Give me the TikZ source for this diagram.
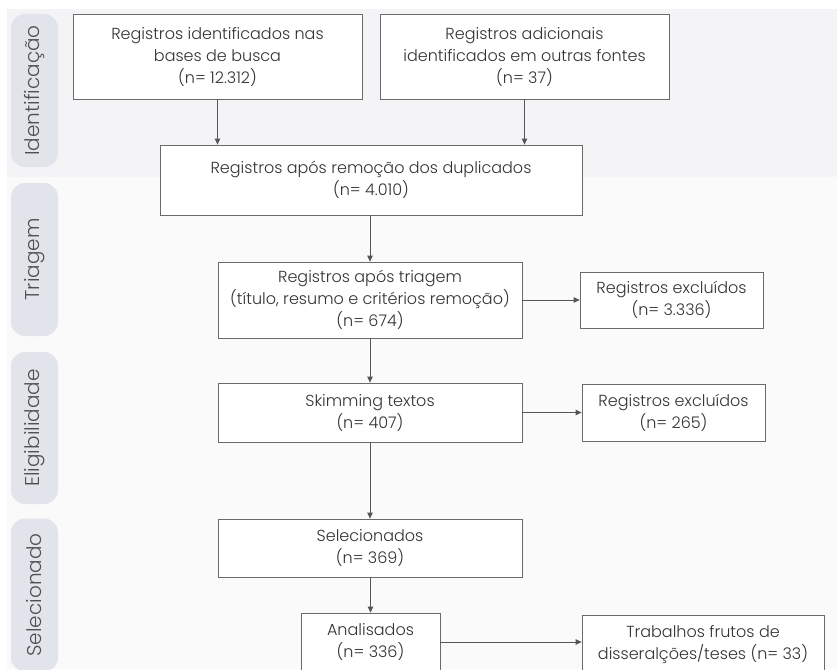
\documentclass[tikz,border=0pt]{standalone}
\usepackage{fontspec}
\setmainfont{Poppins Light}
\usetikzlibrary{arrows.meta}
\definecolor{bandA}{HTML}{F4F4F6}
\definecolor{bandB}{HTML}{FAFAFA}
\definecolor{pill}{HTML}{E2E4EB}
\definecolor{txt}{HTML}{333333}
\definecolor{pilltxt}{HTML}{505050}
\definecolor{edge}{HTML}{6A6A6A}
\tikzset{
  box/.style={draw=edge, line width=0.8pt, fill=white, align=center, text=txt,
    font=\fontsize{16}{22}\selectfont, inner sep=0pt},
  pillbox/.style={fill=pill, rounded corners=14pt, minimum width=47pt, inner sep=0pt},
  pilllabel/.style={rotate=90, text=pilltxt, font=\fontsize{20}{22}\selectfont, inner sep=0pt},
  conn/.style={draw=edge!80!black, line width=0.8pt, -{Triangle[length=6pt,width=5.5pt]}}
}
\begin{document}
\begin{tikzpicture}[x=1pt,y=-1pt]
\useasboundingbox (0,0) rectangle (837,669);
\clip (0,0) rectangle (837,669);
\fill[white] (0,0) rectangle (837,669);
\fill[bandA] (7,9) rectangle (837,177);
\fill[bandB] (7,177) rectangle (837,669);
% stage pills
\node[pillbox, minimum height=153pt] (p1) at (34.5,90.5) {};
\node[pillbox, minimum height=153pt] (p2) at (34.5,259.5) {};
\node[pillbox, minimum height=152pt] (p3) at (34.5,428) {};
\node[pillbox, minimum height=153pt] (p4) at (34.5,595) {};
\node[pilllabel] (t1) at (p1.center) {Identificação};
\node[pilllabel] (t2) at (p2.center) {Triagem};
\node[pilllabel] (t3) at (p3.center) {Eligibilidade};
\node[pilllabel] (t4) at (p4.center) {Selecionado};
% boxes
\node[box, minimum width=289pt, minimum height=85pt] (b1) at (217.5,56.5)
  {Registros identificados nas\\bases de busca\\(n= 12.312)};
\node[box, minimum width=289pt, minimum height=85pt] (b2) at (524.5,56.5)
  {Registros adicionais\\identificados em outras fontes\\(n= 37)};
\node[box, minimum width=422pt, minimum height=70pt] (b3) at (371,180)
  {Registros após remoção dos duplicados\\(n= 4.010)};
\node[box, minimum width=304pt, minimum height=76pt] (b4) at (370,300)
  {Registros após triagem\\(título, resumo e critérios remoção)\\(n= 674)};
\node[box, minimum width=183pt, minimum height=56pt] (e1) at (671.5,300)
  {Registros excluídos\\(n= 3.336)};
\node[box, minimum width=304pt, minimum height=59pt] (b5) at (370,412.5)
  {Skimming textos\\(n= 407)};
\node[box, minimum width=183pt, minimum height=57pt] (e2) at (673.5,412.5)
  {Registros excluídos\\(n= 265)};
\node[box, minimum width=304pt, minimum height=58pt] (b6) at (370,548)
  {Selecionados\\(n= 369)};
\node[box, minimum width=139pt, minimum height=58pt] (b7) at (370.5,642)
  {Analisados\\(n= 336)};
\node[box, minimum width=242pt, minimum height=58pt] (b8) at (703,644)
  {Trabalhos frutos de\\disseralções/teses (n= 33)};
% connectors
\draw[conn] (b1.south) -- (b1.south |- b3.north);
\draw[conn] (b2.south) -- (b2.south |- b3.north);
\draw[conn] (b3.south -| b4.north) -- (b4.north);
\draw[conn] (b4.east) -- (e1.west |- b4.east);
\draw[conn] (b4.south) -- (b5.north);
\draw[conn] (b5.east) -- (e2.west |- b5.east);
\draw[conn] (b5.south) -- (b6.north);
\draw[conn] (b6.south -| b7.north) -- (b7.north);
\draw[conn] (b7.east) -- (b8.west |- b7.east);
\end{tikzpicture}
\end{document}
